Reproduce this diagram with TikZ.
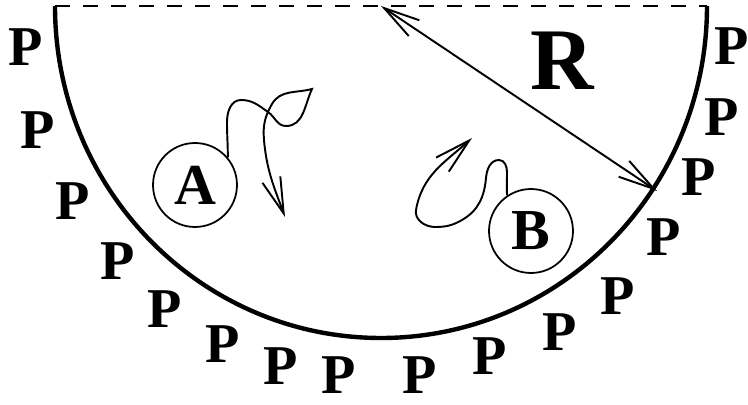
\documentclass[tikz,border=0pt]{standalone}
\usepackage{fontspec}
\setmainfont{Liberation Serif}
\usepackage{tikz}
\usetikzlibrary{arrows.meta}
\tikzset{
  rim/.style={
    draw=black,
    line width=2.5pt
  },
  chord/.style={
    draw=black,
    line width=1.2pt,
    dash pattern=on 0.3cm off 0.26cm
  },
  ball/.style={
    circle,
    draw=black,
    line width=1pt,
    minimum size=1.68cm,
    inner sep=0pt,
    font=\fontsize{33}{33}\selectfont\bfseries
  },
  plabel/.style={
    inner sep=0pt,
    font=\fontsize{32}{32}\selectfont\bfseries
  },
  rlabel/.style={
    inner sep=0pt,
    font=\fontsize{50}{50}\selectfont\bfseries
  },
  arrow/.style={-{Straight Barb[length=0.72cm,width=0.38cm]}, line width=1.1pt},
  twoway/.style={{Straight Barb[length=0.72cm,width=0.38cm]}-{Straight Barb[length=0.72cm,width=0.38cm]}, line width=1.1pt}
}

\begin{document}
\begin{tikzpicture}[x=0.02cm,y=0.02cm]

\useasboundingbox (0,0) rectangle (748,-405);

\coordinate (west) at (55,-6);
\coordinate (east) at (707,-6);
\coordinate (centre) at (381,-6);
\coordinate (hit) at (657,-191);

% half disc
\draw[rim] (west) arc[start angle=180,end angle=360,x radius=326,y radius=332];
\draw[chord] (west) -- (east);

\node[rlabel] (rr) at (562,-61) {R};
\draw[twoway] (centre) -- (hit);

\node[ball] (ba) at (195,-185) {A};
\node[ball] (bb) at (531,-231) {B};

% paths of A and B
\draw[arrow] (ba.40) to[out=90,in=-90] (227,-122) to[out=90,in=180] (241,-100)
  to[out=0,in=145] (268,-112) to[out=-35,in=180] (286,-126) to[out=0,in=-115] (312,-89)
  to[out=195,in=60] (272,-104) to[out=-120,in=95] (264,-140) to[out=-85,in=110] (285,-217);
\draw[arrow] (bb.124) to[out=92,in=-90] (507,-172) to[out=90,in=0] (499,-160)
  to[out=180,in=85] (486,-178) to[out=-95,in=30] (462,-220) to[out=210,in=0] (435,-227)
  to[out=180,in=-100] (416,-210) to[out=80,in=222] (472,-138);

% particles round the rim
\node[plabel] (p1) at (26,-47) {P};
\node[plabel] (p2) at (38,-130) {P};
\node[plabel] (p3) at (73,-201) {P};
\node[plabel] (p4) at (118,-261) {P};
\node[plabel] (p5) at (165,-309) {P};
\node[plabel] (p6) at (223,-344) {P};
\node[plabel] (p7) at (281,-366) {P};
\node[plabel] (p8) at (339,-375) {P};
\node[plabel] (p9) at (420,-375) {P};
\node[plabel] (p10) at (490,-356) {P};
\node[plabel] (p11) at (560,-332) {P};
\node[plabel] (p12) at (618,-296) {P};
\node[plabel] (p13) at (664,-237) {P};
\node[plabel] (p14) at (699,-177) {P};
\node[plabel] (p15) at (722,-117) {P};
\node[plabel] (p16) at (732,-46) {P};

\end{tikzpicture}
\end{document}
